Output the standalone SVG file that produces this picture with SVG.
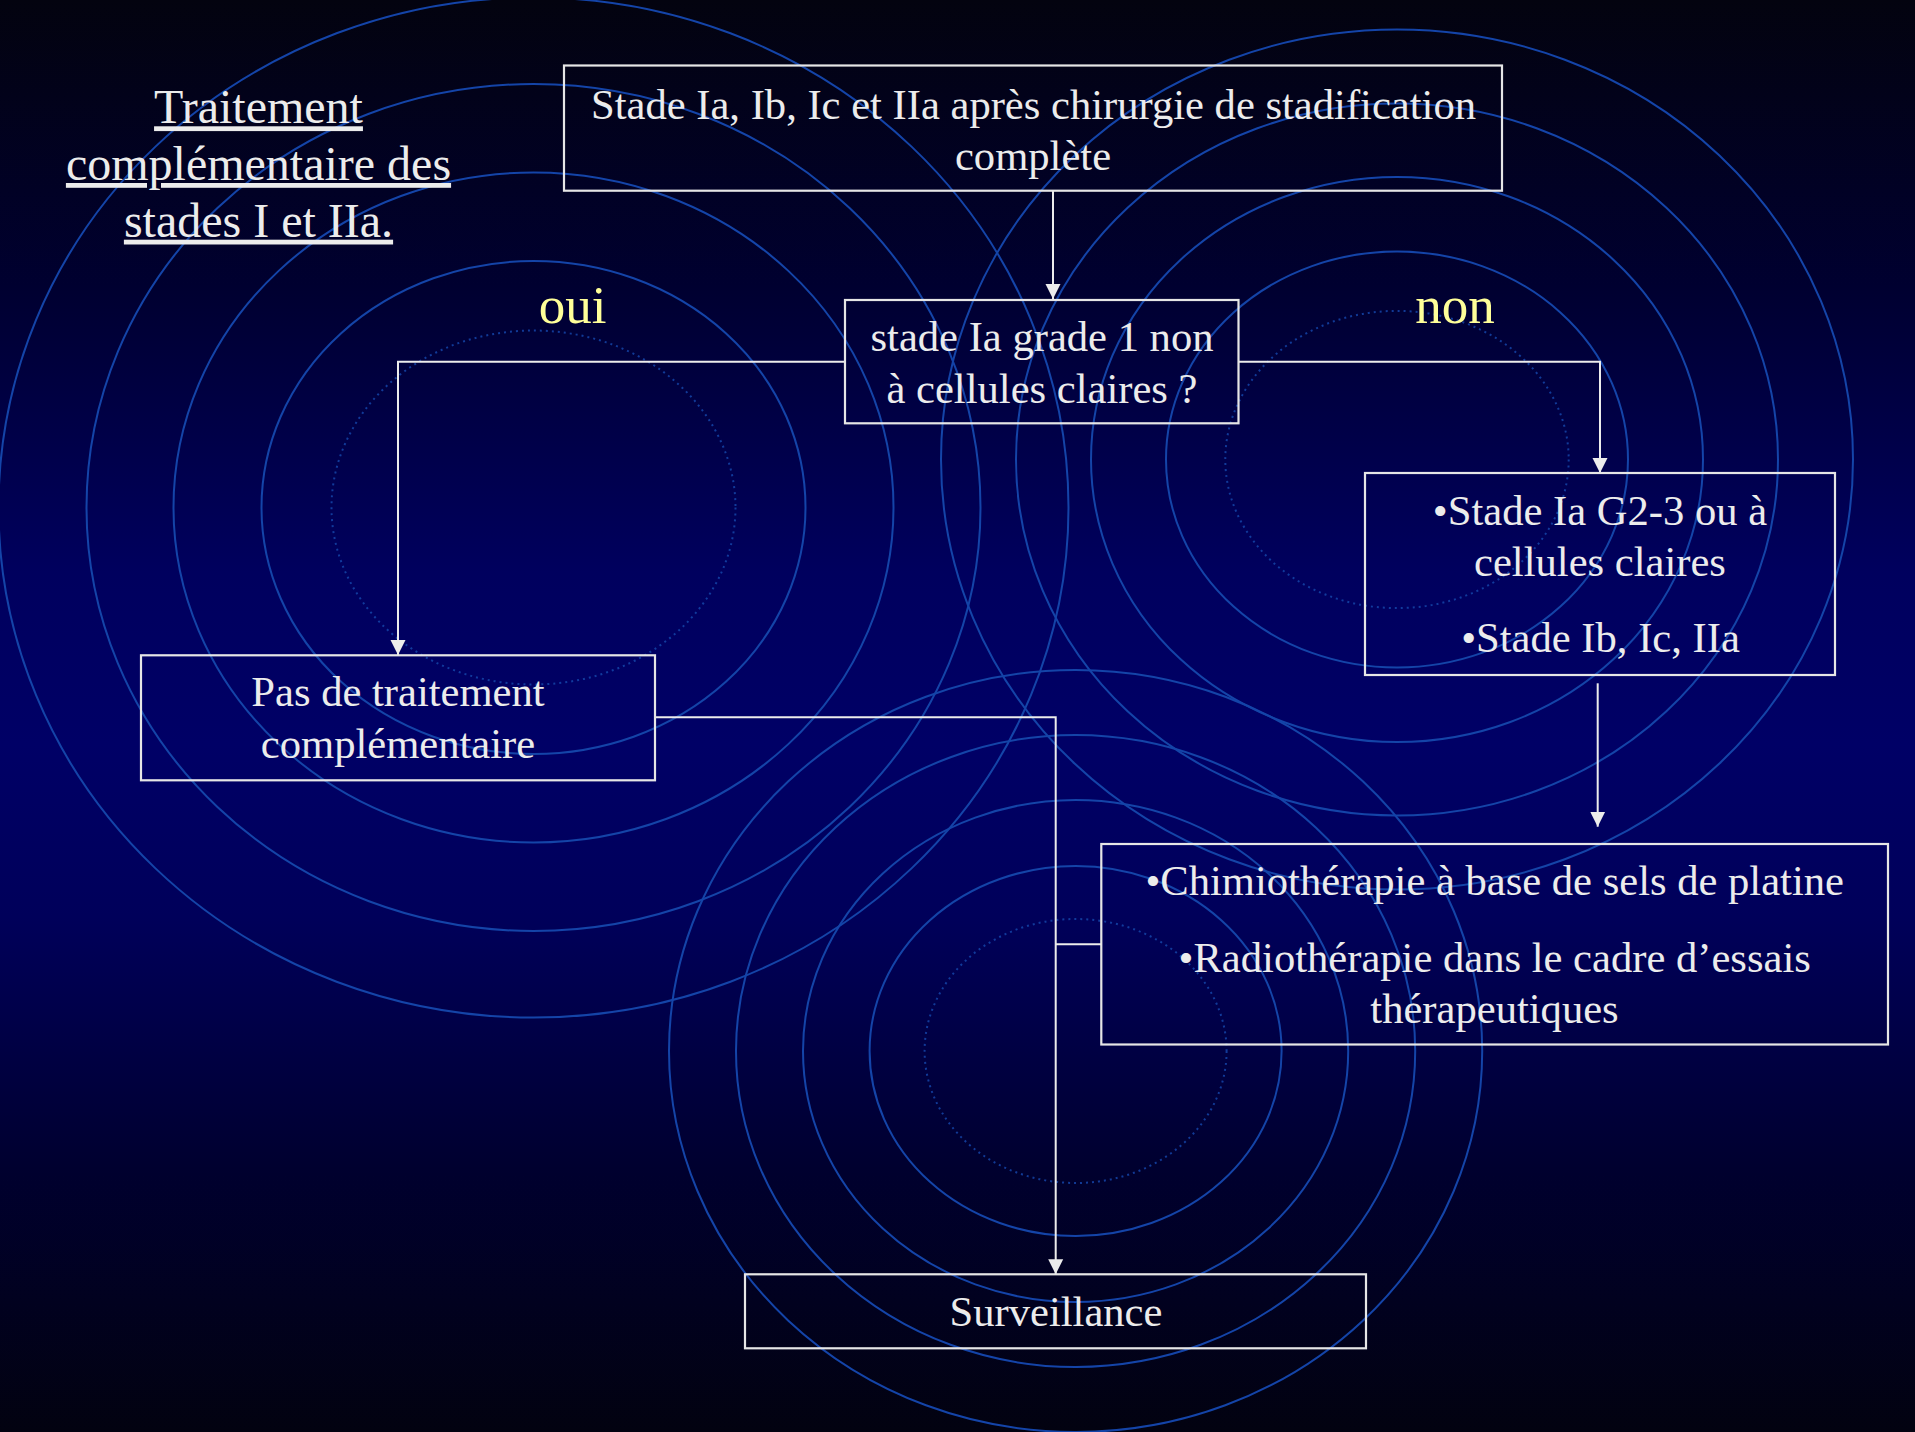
<svg xmlns="http://www.w3.org/2000/svg" width="1915" height="1432" viewBox="0 0 1915 1432">
  <defs>
    <linearGradient id="bg" x1="0" y1="0" x2="0" y2="1">
      <stop offset="0" stop-color="#03030f"/>
      <stop offset="0.2" stop-color="#000030"/>
      <stop offset="0.4" stop-color="#00005e"/>
      <stop offset="0.52" stop-color="#000066"/>
      <stop offset="0.64" stop-color="#00005a"/>
      <stop offset="0.82" stop-color="#00002e"/>
      <stop offset="1" stop-color="#020210"/>
    </linearGradient>
    <marker id="arrow" markerUnits="userSpaceOnUse" markerWidth="16" markerHeight="16" viewBox="0 0 16 16" refX="15" refY="8" orient="auto">
      <path d="M0,0.5 L15,8 L0,15.5 Z" fill="#ececec"/>
    </marker>
    <style>
      .ring { fill: none; stroke: #1444a8; stroke-width: 2; }
      .dot { fill: none; stroke: #1444a8; stroke-width: 2; stroke-dasharray: 2 4; opacity: 0.85; }
      .box { fill: none; stroke: #e6e6e6; stroke-width: 2.2; }
      .t { font-family: "Liberation Serif", "Times New Roman", serif; font-size: 42.6px; fill: #ececec; text-anchor: middle; }
      .title { font-family: "Liberation Serif", "Times New Roman", serif; font-size: 48px; fill: #ececec; text-anchor: middle; text-decoration: underline; }
      .lbl { font-family: "Liberation Serif", "Times New Roman", serif; font-size: 53px; fill: #ffff99; text-anchor: middle; }
      .conn { fill: none; stroke: #ececec; stroke-width: 2; }
    </style>
  </defs>

  <rect x="0" y="0" width="1915" height="1432" fill="url(#bg)"/>

  <g id="background-rings">
    <ellipse class="ring" cx="533.5" cy="507.5" rx="535" ry="510"/>
    <ellipse class="ring" cx="533.5" cy="507.5" rx="447" ry="423.5"/>
    <ellipse class="ring" cx="533.5" cy="507.5" rx="360" ry="335"/>
    <ellipse class="ring" cx="533.5" cy="507.5" rx="272" ry="246.5"/>
    <ellipse class="dot" cx="533.5" cy="507.5" rx="202" ry="177"/>

    <ellipse class="ring" cx="1397" cy="459.5" rx="456" ry="430"/>
    <ellipse class="ring" cx="1397" cy="459.5" rx="381" ry="356"/>
    <ellipse class="ring" cx="1397" cy="459.5" rx="306" ry="282.6"/>
    <ellipse class="ring" cx="1397" cy="459.5" rx="231" ry="208"/>
    <ellipse class="dot" cx="1397" cy="459.5" rx="171.7" ry="148.6"/>

    <ellipse class="ring" cx="1075.6" cy="1051" rx="406.6" ry="381"/>
    <ellipse class="ring" cx="1075.6" cy="1051" rx="339.6" ry="316"/>
    <ellipse class="ring" cx="1075.6" cy="1051" rx="272.6" ry="251"/>
    <ellipse class="ring" cx="1075.6" cy="1051" rx="206" ry="185"/>
    <ellipse class="dot" cx="1075.6" cy="1051" rx="151" ry="132"/>
  </g>

  <g id="title">
    <text class="title" x="258.5" y="123.3">Traitement</text>
    <text class="title" x="258.5" y="180">complémentaire des</text>
    <text class="title" x="258.5" y="236.7">stades I et IIa.</text>
  </g>

  <g id="connectors">
    <line class="conn" x1="1053" y1="190.7" x2="1053" y2="299" marker-end="url(#arrow)"/>
    <polyline class="conn" points="845,361.8 398,361.8 398,655" marker-end="url(#arrow)"/>
    <polyline class="conn" points="1238.5,361.8 1600,361.8 1600,473" marker-end="url(#arrow)"/>
    <line class="conn" x1="1597.7" y1="683.3" x2="1597.7" y2="826.7" marker-end="url(#arrow)"/>
    <polyline class="conn" points="655,717.3 1055.7,717.3 1055.7,1274.3" marker-end="url(#arrow)"/>
    <line class="conn" x1="1101.3" y1="944.3" x2="1055.7" y2="944.3"/>
    <text class="lbl" x="572.5" y="322.8">oui</text>
    <text class="lbl" x="1455" y="322.8">non</text>
  </g>

  <g id="node-start">
    <rect class="box" x="564" y="65.5" width="938" height="125.2"/>
    <text class="t" x="1033.5" y="118.5">Stade Ia, Ib, Ic et IIa après chirurgie de stadification</text>
    <text class="t" x="1033" y="170">complète</text>
  </g>

  <g id="node-decision">
    <rect class="box" x="845" y="300" width="393.5" height="123.3"/>
    <text class="t" x="1042" y="351">stade Ia grade 1 non</text>
    <text class="t" x="1042" y="402.7">à cellules claires ?</text>
  </g>

  <g id="node-pas">
    <rect class="box" x="141" y="655.3" width="514" height="125"/>
    <text class="t" x="398" y="706.2">Pas de traitement</text>
    <text class="t" x="398" y="758.4">complémentaire</text>
  </g>

  <g id="node-stades">
    <rect class="box" x="1365" y="473" width="470" height="202"/>
    <text class="t" x="1600" y="524.8">•Stade Ia G2-3 ou à</text>
    <text class="t" x="1600" y="576.2">cellules claires</text>
    <text class="t" x="1600.5" y="652">•Stade Ib, Ic, IIa</text>
  </g>

  <g id="node-chimio">
    <rect class="box" x="1101.3" y="844" width="786.7" height="200.5"/>
    <text class="t" x="1494.7" y="895">•Chimiothérapie à base de sels de platine</text>
    <text class="t" x="1494.7" y="972">•Radiothérapie dans le cadre d’essais</text>
    <text class="t" x="1494.5" y="1022.5">thérapeutiques</text>
  </g>

  <g id="node-surveillance">
    <rect class="box" x="745" y="1274.3" width="621" height="74"/>
    <text class="t" x="1056" y="1326">Surveillance</text>
  </g>
</svg>
